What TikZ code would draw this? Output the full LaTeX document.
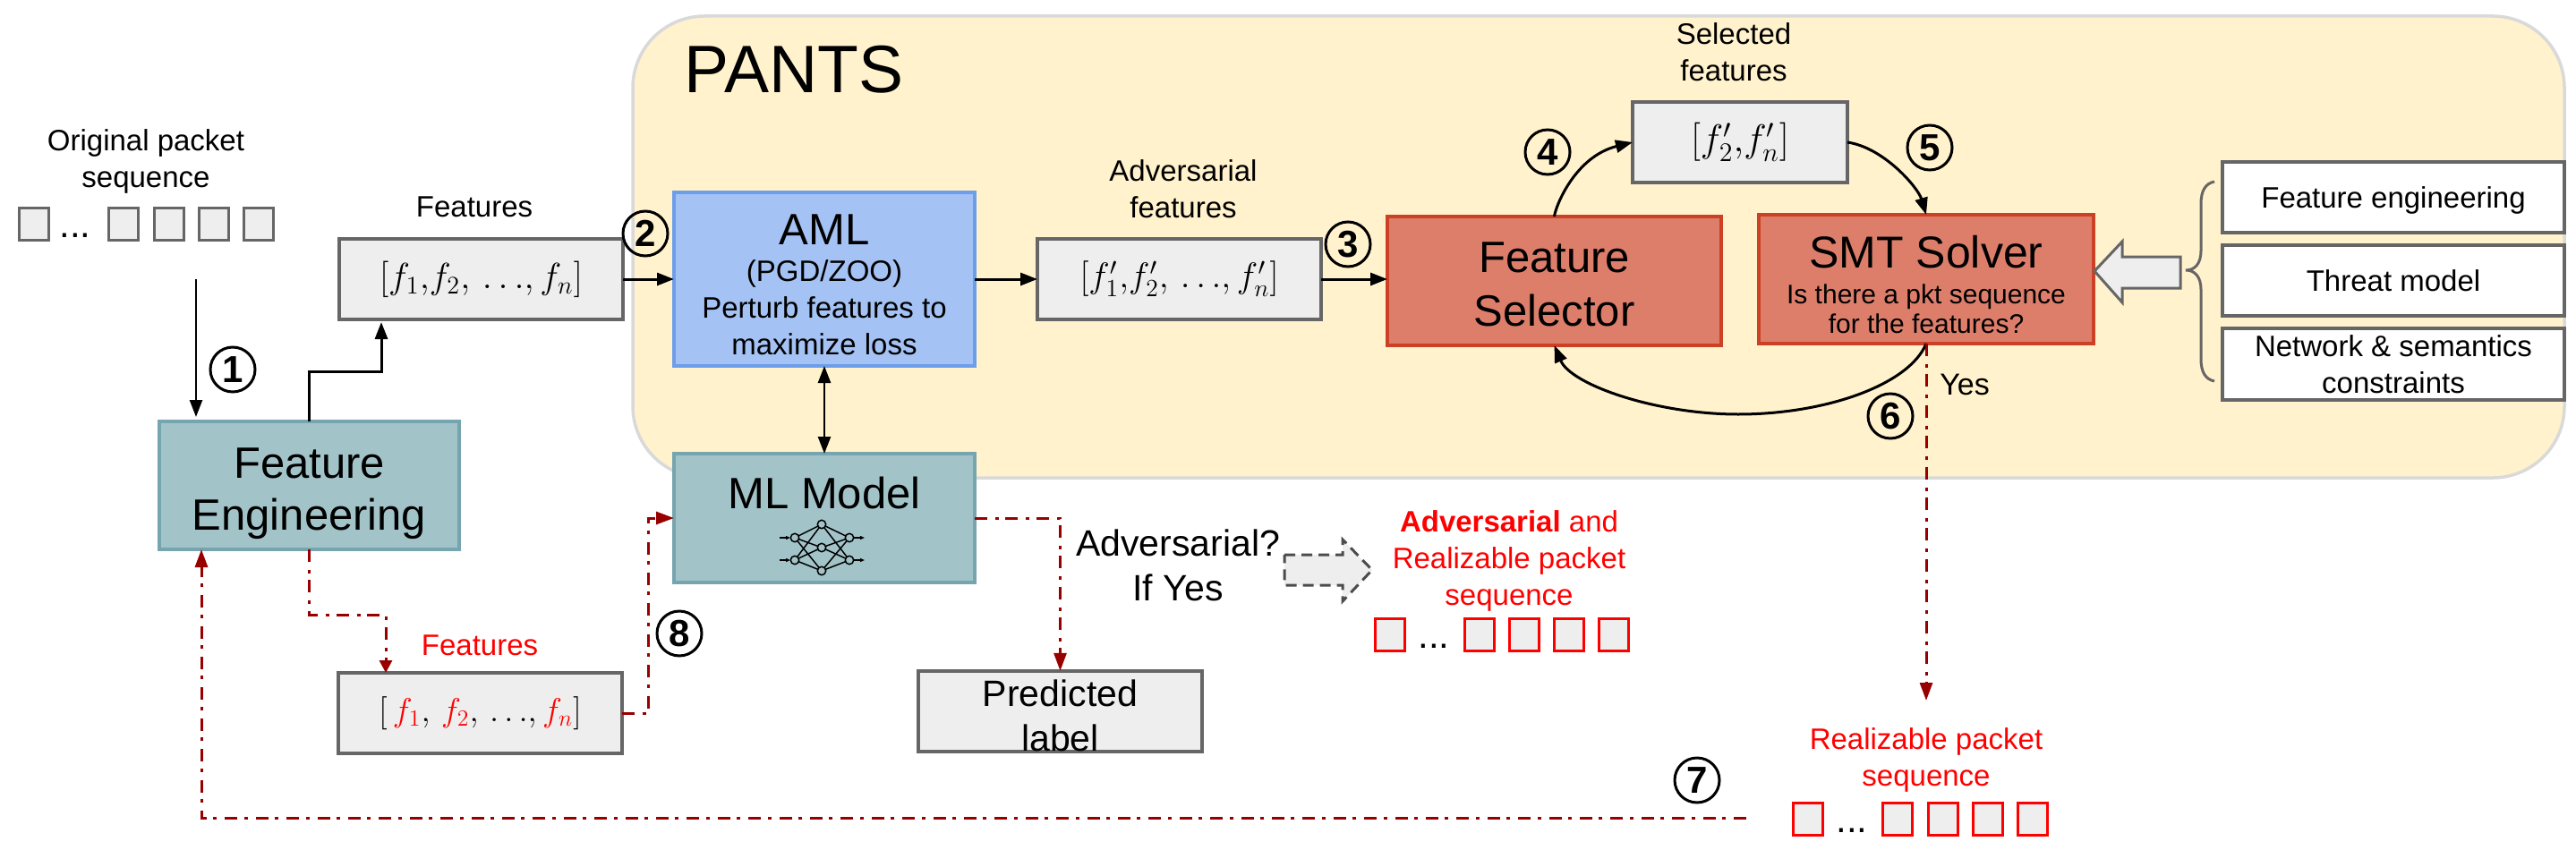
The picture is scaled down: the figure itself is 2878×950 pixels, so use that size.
\documentclass[tikz,border=0pt]{standalone}
\usepackage[no-math]{fontspec}
\usepackage{graphicx}
\setmainfont{Liberation Sans}
\usetikzlibrary{arrows.meta,calc}
\definecolor{panelfill}{HTML}{FFF2CC}
\definecolor{panelline}{HTML}{D9D9D9}
\definecolor{grayfill}{HTML}{EEEEEE}
\definecolor{grayline}{HTML}{666666}
\definecolor{amlfill}{HTML}{A4C2F4}
\definecolor{amlline}{HTML}{6D9EEB}
\definecolor{tealfill}{HTML}{A2C4C9}
\definecolor{tealline}{HTML}{76A5AF}
\definecolor{redfill}{HTML}{DD7E6B}
\definecolor{redline}{HTML}{CC4125}
\definecolor{darkred}{HTML}{980000}
\definecolor{brightred}{HTML}{FF0000}
\newcommand{\fsz}[2]{\fontsize{#1}{#2}\selectfont}
\newcommand{\bigmath}[2]{\scalebox{#1}{\fsz{17.28}{20}$#2$}}
\newcommand{\lbk}{\mathbf{[}}
\newcommand{\rbk}{\mathbf{]}}
\tikzset{
  box/.style={rectangle,draw,line width=3.5pt,inner sep=0pt,outer sep=0pt,align=center,text=black},
  graybox/.style={box,fill=grayfill,draw=grayline},
  amlbox/.style={box,fill=amlfill,draw=amlline},
  tealbox/.style={box,fill=tealfill,draw=tealline},
  redbox/.style={box,fill=redfill,draw=redline},
  whitebox/.style={box,fill=white,draw=grayline,font=\fsz{33}{41}},
  txt/.style={align=center,inner sep=0pt,font=\fsz{33}{41}},
  redtxt/.style={txt,text=brightred},
  bigtxt/.style={align=center,inner sep=0pt,font=\fsz{41}{50}},
  pkt/.style={rectangle,draw=grayline,fill=grayfill,line width=3pt,minimum width=33pt,minimum height=36pt,inner sep=0pt,outer sep=0pt},
  redpkt/.style={pkt,draw=brightred},
  dotsnode/.style={inner sep=0pt,font=\fsz{42}{42}},
  stepnum/.style={circle,draw=black,line width=3pt,minimum size=50pt,inner sep=0pt,font=\fsz{42}{42}\bfseries},
  flow/.style={draw=black,line width=3pt,-{Triangle[length=19pt,width=14pt]}},
  thinflow/.style={flow,line width=2.5pt},
  dashflow/.style={draw=darkred,line width=3pt,dash pattern=on 14pt off 9pt on 4pt off 7.4pt,-{Triangle[length=20pt,width=14pt]}},
}
\begin{document}
\begin{tikzpicture}[x=1pt,y=-1pt]
\useasboundingbox (0,0) rectangle (2878,950);
% panel
\node[rectangle,draw=panelline,fill=panelfill,line width=3.5pt,rounded corners=80pt,minimum width=2158pt,minimum height=516pt,inner sep=0pt,outer sep=0pt] (panel) at (1786,276) {};
\node[inner sep=0pt,font=\fsz{75}{75}] (pants) at (887,78) {PANTS};
% original packets
\node[txt] (origlabel) at (163,180) {Original packet\\sequence};
\foreach \n/\x in {a/38,b/138,c/189,d/239,e/289}{\node[pkt] (orig\n) at (\x,250) {};}
\node[dotsnode,anchor=base] (origdots) at (84,265) {...};
% feature engineering
\node[tealbox,minimum width=335pt,minimum height=143pt,font=\fsz{49}{58}] (fe) at (345.5,542.5) {\rule{0pt}{53pt}Feature\\Engineering};
% features
\node[txt] (featlabel) at (530,231) {Features};
\node[graybox,minimum width=317pt,minimum height=90pt] (feat) at (537.5,312) {\bigmath{2.35}{\lbk f_1{,}f_2,\,{\ldots},f_n\rbk}};
% AML
\node[amlbox,minimum width=336pt,minimum height=194pt,font=\fsz{33}{41}] (aml) at (921,312) {{\fsz{49}{41}\rule{0pt}{47pt}AML}\\(PGD/ZOO)\\Perturb features to\\maximize loss};
% ML model
\node[tealbox,minimum width=336pt,minimum height=144pt] (ml) at (921,579) {};
\node[inner sep=0pt,font=\fsz{49}{58}] (mltext) at (921,551) {ML Model};
% adversarial features
\node[txt] (advlabel) at (1322,211) {Adversarial\\features};
\node[graybox,minimum width=317pt,minimum height=90pt] (adv) at (1317.5,312) {\bigmath{2.3}{\lbk f_1'{,}f_2',\,{\ldots},f_n'\rbk}};
% feature selector
\node[redbox,minimum width=373pt,minimum height=144pt,font=\fsz{49}{60}] (fs) at (1736.5,314) {\rule{0pt}{41pt}Feature\\Selector};
% selected
\node[txt] (sellabel) at (1937,58) {Selected\\features};
\node[graybox,minimum width=240pt,minimum height=90pt] (sel) at (1944,159) {\bigmath{2.5}{\lbk f_2'{,}f_n'\rbk}};
% SMT
\node[redbox,minimum width=374pt,minimum height=144pt,font=\fsz{30}{33}] (smt) at (2152,312) {{\fsz{50}{33}\rule{0pt}{49pt}SMT Solver}\\[7pt]Is there a pkt sequence\\for the features?};
% white boxes
\node[whitebox,minimum width=382pt,minimum height=79pt] (wa) at (2674,220.5) {\rule{0pt}{30pt}Feature engineering};
\node[whitebox,minimum width=382pt,minimum height=79pt] (wb) at (2674,313.5) {Threat model};
\node[whitebox,minimum width=382pt,minimum height=80pt] (wc) at (2674,407) {Network \& semantics\\constraints};
% brace
\draw[draw=grayline,line width=3pt] (2474,203) .. controls (2464,205) and (2459,213) .. (2459,228) -- (2459,280) .. controls (2459,295) and (2452,302) .. (2442,302) .. controls (2452,302) and (2459,309) .. (2459,324) -- (2459,401) .. controls (2459,416) and (2464,424) .. (2474,426);
% block arrow
\draw[draw=grayline,fill=grayfill,line width=3pt,line join=miter] (2340,303) -- (2371,270) -- (2371,287) -- (2436,287) -- (2436,322) -- (2371,322) -- (2371,338) -- cycle;
% lower features
\node[redtxt] (redfeat) at (536,721) {Features};
\node[graybox,minimum width=317pt,minimum height=90pt] (fr) at (536.5,797) {\bigmath{2.15}{\lbk\,{\color{brightred}f_1},\,{\color{brightred}f_2},\,{\ldots},{\color{brightred}f_n}\rbk}};
% predicted
\node[bigtxt] (advq) at (1316,632) {Adversarial?\\If Yes};
\node[graybox,minimum width=317pt,minimum height=90pt,font=\fsz{41}{50}] (pred) at (1184.5,795) {\rule{0pt}{40pt}Predicted\\label};
% dashed block arrow
\draw[draw=black!70,fill=grayfill,line width=3pt,dash pattern=on 12pt off 7pt] (1435,620) -- (1500,620) -- (1500,603) -- (1533,637) -- (1500,672) -- (1500,654) -- (1435,654) -- cycle;
% adversarial output
\node[txt,text=brightred] (advout) at (1686,627) {\textbf{Adversarial} and\\Realizable packet\\sequence};
\foreach \n/\x in {a/1552.5,b/1652.5,c/1702.5,d/1753,e/1803}{\node[redpkt] (adv\n) at (\x,709) {};}
\node[dotsnode,anchor=base] (advdots) at (1602,724) {...};
% realizable output
\node[redtxt] (realout) at (2152,849) {Realizable packet\\sequence};
\foreach \n/\x in {a/2019.5,b/2120,c/2170.5,d/2220.5,e/2270.5}{\node[redpkt] (real\n) at (\x,915) {};}
\node[dotsnode,anchor=base] (realdots) at (2069,930) {...};
% yes
\node[inner sep=0pt,font=\fsz{34}{41}] (yes) at (2195,430) {Yes};
% step numbers
\node[stepnum] (n1) at (260,413) {1};
\node[stepnum] (n2) at (721,261) {2};
\node[stepnum] (n3) at (1506,273) {3};
\node[stepnum] (n4) at (1729,170) {4};
\node[stepnum] (n5) at (2156,165) {5};
\node[stepnum] (n6) at (2112,465) {6};
\node[stepnum] (n7) at (1896,872) {7};
\node[stepnum] (n8) at (759,708) {8};
% connector ends
\coordinate (c1a) at (219,312);
\coordinate (c1b) at (219,466);
\coordinate (c7a) at (1951,914);
\coordinate (c7b) at (2152,783);
% black connectors
\draw[thinflow] (c1a) -- (c1b);
\draw[flow] (fe.north) -- ++(0,-56) -| ([xshift=-111.5pt,yshift=-3pt]feat.south);
\draw[flow] (feat.east) -- (aml.west);
\draw[flow] (aml.east) -- (adv.west);
\draw[flow] (adv.east) -- (fs.west |- adv.east);
\draw[thinflow,{Triangle[length=19pt,width=14pt]}-{Triangle[length=19pt,width=14pt]}] (aml.south) -- (ml.north);
\draw[flow] (fs.north) .. controls (1738,230) and (1760,175) .. (sel.west);
\draw[flow] (sel.east) .. controls (2105,165) and (2143,210) .. (smt.north);
\draw[flow] (smt.south) .. controls (2133,430) and (2040,463) .. (1942,463) .. controls (1850,463) and (1755,430) .. (fs.south);
% red connectors
\draw[dashflow] (smt.south) -- (c7b);
\draw[dashflow,-{Triangle[length=14pt,width=14pt]}] (fe.south) -- ++(0,73) -| ([xshift=-105.5pt]fr.north);
\draw[dashflow] (fr.east) -- ++(29,0) |- (ml.west |- 0,579);
\draw[dashflow] (c7a) -| ([xshift=-120.5pt]fe.south);
\draw[dashflow] (ml.east) -| (pred.north);
% network icon
\foreach \x/\y in {888/601,888/626,918/586,918/612,918/638,949/601,949/626}{\coordinate (net\x\y) at (\x,\y);}
\foreach \a in {888601,888626}{\foreach \b in {918586,918612,918638}{\draw[line width=1.5pt] (net\a) -- (net\b);}}
\foreach \a in {949601,949626}{\foreach \b in {918586,918612,918638}{\draw[line width=1.5pt] (net\a) -- (net\b);}}
\foreach \a in {888601,888626,918586,918612,918638,949601,949626}{\draw[line width=1.5pt,fill=tealfill] (net\a) circle[radius=4.7pt];}
\foreach \y in {601,626}{
  \draw[line width=1.5pt,-{Triangle[length=5pt,width=4pt]}] (871,\y) -- (883,\y);
  \draw[line width=1.5pt,-{Triangle[length=5pt,width=4pt]}] (954,\y) -- (966,\y);
}
\end{tikzpicture}
\end{document}
